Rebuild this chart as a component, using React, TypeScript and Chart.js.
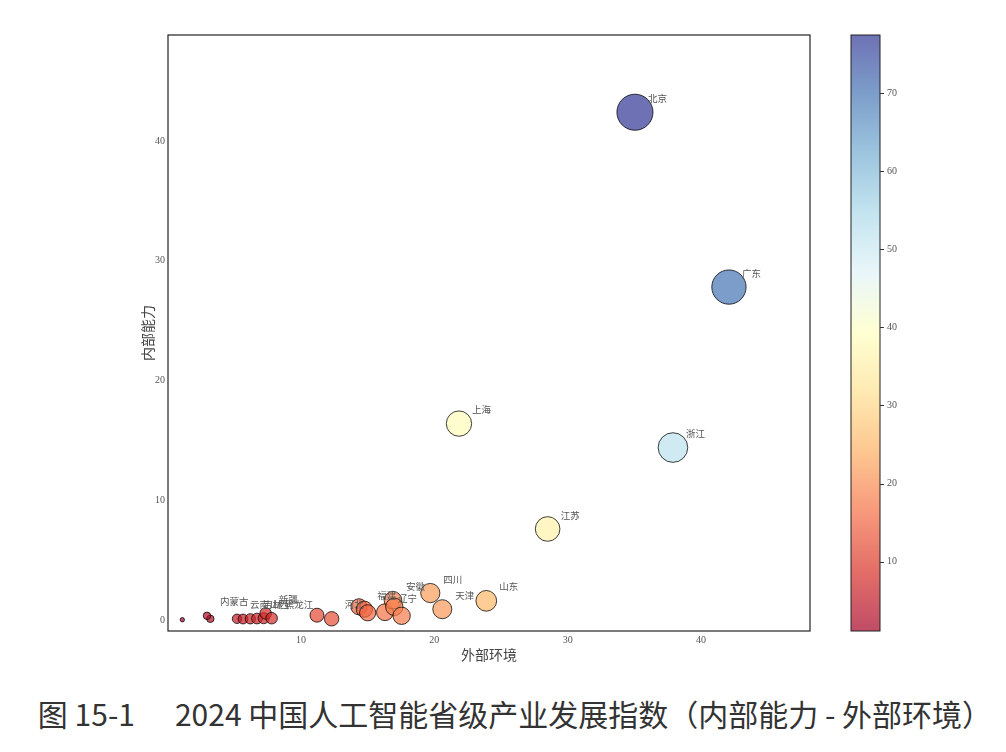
import React, { useEffect, useRef } from "react";
import { Chart, registerables } from "chart.js";

Chart.register(...registerables);

// 各省份：外部环境（x）与内部能力（y）
const provinces = [
  "西藏", "青海", "内蒙古", "云南", "甘肃", "吉林", "山西", "贵州", "新疆", "黑龙江",
  "江西", "河北", "湖南", "福建", "河南", "辽宁", "安徽", "湖北", "陕西", "四川",
  "天津", "山东", "上海", "江苏", "浙江", "广东", "北京",
];
const externalEnv = [
  1.1, 3.2, 2.95, 5.2, 5.65, 6.2, 6.7, 7.2, 7.35, 7.8,
  11.2, 12.3, 14.35, 14.75, 15.0, 16.3, 16.9, 17.0, 17.55, 19.7,
  20.6, 23.9, 21.85, 28.5, 37.9, 42.1, 35.05,
];
const internalCap = [
  0.02, 0.1, 0.35, 0.1, 0.08, 0.1, 0.12, 0.15, 0.55, 0.15,
  0.4, 0.1, 1.1, 0.9, 0.6, 0.65, 1.65, 1.1, 0.35, 2.25,
  0.9, 1.6, 16.4, 7.6, 14.4, 27.8, 42.4,
];
const labeledProvinces = [
  "内蒙古", "云南", "吉林", "山西", "新疆", "黑龙江", "河北", "福建", "辽宁", "安徽",
  "四川", "天津", "山东", "上海", "江苏", "浙江", "广东", "北京",
];

const xTicks = [10, 20, 30, 40];
const yTicks = [0, 10, 20, 30, 40];
const colorbarTicks = [10, 20, 30, 40, 50, 60, 70];

const xTitle = "外部环境";
const yTitle = "内部能力";
const figureNo = "图 15-1";
const figureTitle = "2024 中国人工智能省级产业发展指数（内部能力 - 外部环境）";

// RdYlBu colour ramp
const RDYLBU = [
  [165, 0, 38], [215, 48, 39], [244, 109, 67], [253, 174, 97], [254, 224, 144],
  [255, 255, 191], [224, 243, 248], [171, 217, 233], [116, 173, 209], [69, 117, 180],
  [49, 54, 149],
];
const ALPHA = 0.7;

function rampColor(t: number, alpha: number): string {
  const c = Math.max(0, Math.min(1, t)) * (RDYLBU.length - 1);
  const i = Math.min(Math.floor(c), RDYLBU.length - 2);
  const f = c - i;
  const a = RDYLBU[i];
  const b = RDYLBU[i + 1];
  const mix = (k: number) => Math.round(a[k] + (b[k] - a[k]) * f);
  return `rgba(${mix(0)},${mix(1)},${mix(2)},${alpha})`;
}

const totals = externalEnv.map((v, i) => v + internalCap[i]);
const vmin = Math.min(...totals);
const vmax = Math.max(...totals);

const TICK_FONT = { family: "'Liberation Serif', 'DejaVu Serif', serif", size: 10 };
const CJK = "'Noto Sans CJK SC', 'Noto Sans', sans-serif";

// keep scale label overflow from shrinking the plotting area
const noScalePadding = (axis: any) => {
  axis.paddingTop = 0;
  axis.paddingBottom = 0;
  axis.paddingLeft = 0;
  axis.paddingRight = 0;
};

const overlayPlugin = {
  id: "overlay",
  afterDatasetsDraw(chart: any) {
    const { ctx } = chart;
    const meta = chart.getDatasetMeta(0);
    ctx.save();
    ctx.font = `9.5px ${CJK}`;
    ctx.fillStyle = "#555";
    ctx.textAlign = "left";
    ctx.textBaseline = "middle";
    meta.data.forEach((pt: any, i: number) => {
      const name = provinces[i];
      if (!labeledProvinces.includes(name)) return;
      ctx.fillText(name, pt.x + 13, pt.y - 14);
    });
    ctx.restore();
  },
  afterDraw(chart: any) {
    const { ctx, chartArea } = chart;
    ctx.save();
    // frame around the plotting area
    ctx.strokeStyle = "#222";
    ctx.lineWidth = 1.2;
    ctx.strokeRect(chartArea.left, chartArea.top, chartArea.right - chartArea.left, chartArea.bottom - chartArea.top);

    // colour bar
    const cb = chart.scales.cb;
    const x0 = chartArea.right + 41;
    const w = 29;
    const top = cb.getPixelForValue(vmax);
    const bottom = cb.getPixelForValue(vmin);
    const grad = ctx.createLinearGradient(0, bottom, 0, top);
    RDYLBU.forEach((_, i) => {
      const t = i / (RDYLBU.length - 1);
      grad.addColorStop(t, rampColor(t, ALPHA));
    });
    ctx.fillStyle = grad;
    ctx.fillRect(x0, top, w, bottom - top);
    ctx.strokeStyle = "#222";
    ctx.lineWidth = 1;
    ctx.strokeRect(x0, top, w, bottom - top);
    ctx.strokeStyle = "#333";
    colorbarTicks.forEach((v) => {
      const y = Math.round(cb.getPixelForValue(v)) + 0.5;
      ctx.beginPath();
      ctx.moveTo(x0 + w, y);
      ctx.lineTo(x0 + w + 4, y);
      ctx.stroke();
    });
    ctx.restore();
  },
};

export default function App() {
  const canvasRef = useRef<HTMLCanvasElement | null>(null);

  useEffect(() => {
    const canvas = canvasRef.current;
    if (!canvas) return;
    const points = provinces.map((name, i) => ({
      x: externalEnv[i],
      y: internalCap[i],
      total: totals[i],
      name,
    }));
    const radiusOf = (ctx: any) => {
      const raw = ctx.raw as any;
      return raw ? 2.05 * Math.sqrt(raw.total) : 3;
    };
    const chart = new Chart(canvas, {
      type: "scatter",
      data: {
        datasets: [
          {
            data: points as any,
            backgroundColor: (ctx: any) =>
              ctx.raw ? rampColor((ctx.raw.total - vmin) / (vmax - vmin), ALPHA) : "#ccc",
            borderColor: "rgba(0,0,0,0.75)",
            borderWidth: 1,
            pointRadius: radiusOf,
            pointHoverRadius: radiusOf,
          },
        ],
      },
      options: {
        animation: false,
        responsive: false,
        events: [],
        layout: { autoPadding: false, padding: { left: 128, top: 35, right: 96, bottom: 13 } },
        plugins: {
          legend: { display: false },
          tooltip: { enabled: false },
        },
        scales: {
          x: {
            type: "linear",
            position: "bottom",
            min: 0.025,
            max: 48.18,
            afterBuildTicks: (axis: any) => {
              axis.ticks = xTicks.map((v) => ({ value: v }));
            },
            afterFit: (axis: any) => {
              axis.height = 36;
              noScalePadding(axis);
            },
            grid: { drawOnChartArea: false, drawTicks: false },
            border: { display: false },
            ticks: { font: TICK_FONT, color: "#555", padding: 3, maxRotation: 0 },
            title: {
              display: true,
              text: xTitle,
              font: { family: CJK, size: 14 },
              color: "#444",
              padding: { top: 4, bottom: 4 },
            },
          },
          y: {
            type: "linear",
            position: "left",
            min: -0.92,
            max: 48.85,
            afterBuildTicks: (axis: any) => {
              axis.ticks = yTicks.map((v) => ({ value: v }));
            },
            afterFit: (axis: any) => {
              axis.width = 40;
              noScalePadding(axis);
            },
            grid: { drawOnChartArea: false, drawTicks: false },
            border: { display: false },
            ticks: { font: TICK_FONT, color: "#555", padding: 3 },
            title: {
              display: true,
              text: yTitle,
              font: { family: CJK, size: 14 },
              color: "#444",
              padding: { top: 11, bottom: 0 },
            },
          },
          cb: {
            type: "linear",
            position: "right",
            display: true,
            min: vmin,
            max: vmax,
            afterBuildTicks: (axis: any) => {
              axis.ticks = colorbarTicks.map((v) => ({ value: v }));
            },
            afterFit: (axis: any) => {
              axis.width = 100;
              noScalePadding(axis);
            },
            grid: { drawOnChartArea: false, drawTicks: false },
            border: { display: false },
            ticks: { font: TICK_FONT, color: "#555", padding: 77 },
          },
        },
      },
      plugins: [overlayPlugin],
    });
    return () => chart.destroy();
  }, []);

  return (
    <div
      style={{
        position: "absolute",
        left: 0,
        top: 0,
        width: 1006,
        height: 752,
        background: "#fff",
      }}
    >
      <canvas ref={canvasRef} width={1006} height={680} style={{ display: "block" }} />
      <div
        style={{
          position: "absolute",
          left: 12,
          top: 693,
          width: 1006,
          textAlign: "center",
          fontFamily: CJK,
          fontSize: 30,
          color: "#333",
          whiteSpace: "pre",
          lineHeight: "40px",
        }}
      >
        <span>{figureNo}</span>
        <span style={{ marginLeft: 40 }}>{figureTitle}</span>
      </div>
    </div>
  );
}
